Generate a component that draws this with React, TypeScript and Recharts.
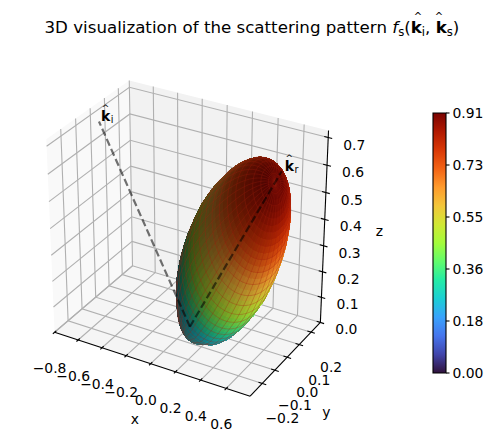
import { ScatterChart, Scatter, XAxis, YAxis, ReferenceArea } from "recharts";

const FONT = "'DejaVu Sans', sans-serif";

const xTicks = [-0.8, -0.6, -0.4, -0.2, 0.0, 0.2, 0.4, 0.6];
const yTicks = [-0.2, -0.1, 0.0, 0.1, 0.2];
const zTicks = [0.0, 0.1, 0.2, 0.3, 0.4, 0.5, 0.6, 0.7];
const colorbarTicks = [0, 0.182, 0.364, 0.546, 0.728, 0.91];

const xLim = [-0.8, 0.785];
const yLim = [-0.295, 0.28];
const zLim = [0, 0.725];

const kIncident = [-0.73, 0, 0.685];
const kReflected = [0.7, 0, 0.68];

// lobe radius, by angle from the reflected direction
const lobeAngles = [
  0, 1.25, 2.5, 3.75, 5, 6.25, 7.5, 8.75, 10, 11.25, 12.5, 13.75, 15, 16.25, 17.5, 18.75, 20, 21.25,
  22.5, 23.75, 25, 26.25, 27.5, 28.75, 30, 31.25, 32.5, 33.75, 35, 36.25, 37.5, 38.75, 40, 41.25,
  42.5, 43.75, 45, 46.25, 47.5, 48.75, 50, 51.25, 52.5, 53.75, 55, 56.25, 57.5, 58.75, 60, 61.25,
  62.5, 63.75, 65, 66.25, 67.5, 68.75, 70, 71.25, 72.5, 73.75, 75, 76.25, 77.5, 78.75, 80, 81.25,
  82.5, 83.75, 85, 86.25, 87.5, 88.75, 90,
];
const lobeRadii = [
  0.91, 0.909, 0.906, 0.901, 0.894, 0.885, 0.875, 0.863, 0.849, 0.834, 0.818, 0.8, 0.782, 0.763,
  0.744, 0.724, 0.704, 0.683, 0.662, 0.641, 0.621, 0.6, 0.58, 0.56, 0.535, 0.512, 0.49, 0.468, 0.45,
  0.427, 0.405, 0.385, 0.366, 0.345, 0.325, 0.305, 0.272, 0.252, 0.232, 0.218, 0.204, 0.19, 0.177,
  0.166, 0.155, 0.144, 0.133, 0.124, 0.115, 0.106, 0.098, 0.09, 0.082, 0.076, 0.07, 0.063, 0.056,
  0.051, 0.047, 0.043, 0.039, 0.035, 0.031, 0.028, 0.024, 0.02, 0.017, 0.014, 0.011, 0.008, 0.006,
  0.003, 0,
];

const turboStops = [
  "#30123b", "#4145ab", "#4675ed", "#39a2fc", "#1bcfd4", "#24eca6", "#61fc6c", "#a4fc3b",
  "#d1e834", "#f3c63a", "#fe9b2d", "#f36315", "#d93806", "#b11901", "#7a0402",
];

// view: elev 30, azim -60, distance 10, box stretched like the reference
const boxSize = [1.23, 0.826, 1.199];
const SCALE = 1852;
const CENTER_X = 188;
const CENTER_Y = 234;
const WIDTH = 495;
const HEIGHT = 442;

const eyeU = [0.866, 0.5, 0];
const eyeV = [-0.25, 0.433, 0.866];
const eyeW = [0.433, -0.75, 0.5];

type P3 = number[];

const dot = (a: P3, b: P3) => a[0] * b[0] + a[1] * b[1] + a[2] * b[2];

function project(p: P3) {
  const d = [
    ((p[0] - xLim[0]) / (xLim[1] - xLim[0]) - 0.5) * boxSize[0] - eyeW[0] * 10,
    ((p[1] - yLim[0]) / (yLim[1] - yLim[0]) - 0.5) * boxSize[1] - eyeW[1] * 10,
    ((p[2] - zLim[0]) / (zLim[1] - zLim[0]) - 0.5) * boxSize[2] - eyeW[2] * 10,
  ];
  const c = dot(d, eyeW);
  return [dot(d, eyeU) / -c, dot(d, eyeV) / -c, c];
}

function mark(points: P3[], style: any) {
  const pts = points.map(project);
  return { x: pts[0][0], y: pts[0][1], pts, ...style };
}

function MarkShape(props: any) {
  const m = props.payload ?? props;
  const d =
    "M" +
    m.pts.map(([u, v]: number[]) => `${props.cx + (u - m.x) * SCALE},${props.cy - (v - m.y) * SCALE}`).join("L") +
    (m.closed ? "Z" : "");
  return (
    <path
      d={d}
      fill={m.fill ?? "none"}
      stroke={m.stroke ?? "none"}
      strokeOpacity={m.strokeOpacity}
      strokeWidth={m.width ?? 1}
      shapeRendering={m.crisp ? "crispEdges" : undefined}
    />
  );
}

function TextShape(props: any) {
  const m = props.payload ?? props;
  return (
    <text
      x={props.cx + m.dx}
      y={props.cy + m.dy}
      textAnchor="middle"
      dominantBaseline="central"
      fontFamily={FONT}
      fontSize={13.9}
      fill="#000"
    >
      {m.label}
    </text>
  );
}

function KHatShape(props: any) {
  const m = props.payload ?? props;
  const x = props.cx + m.dx;
  const y = props.cy + m.dy;
  return (
    <g fontFamily={FONT} fill="#000">
      <text x={x} y={y} fontSize={13.9} fontWeight="bold">
        k
      </text>
      <text x={x + 9.9} y={y + 2} fontSize={9.7}>
        {m.sub}
      </text>
      <text x={x + 4.6} y={y - 10.7} fontSize={9} textAnchor="middle">
        ^
      </text>
    </g>
  );
}

const fmt = (v: number) => v.toFixed(1).replace("-", "\u2212");

function hexToRgb(hex: string) {
  return [1, 3, 5].map((i) => parseInt(hex.slice(i, i + 2), 16));
}

function turbo(t: number) {
  const pos = Math.min(Math.max(t, 0), 1) * (turboStops.length - 1);
  const i = Math.min(Math.floor(pos), turboStops.length - 2);
  const a = hexToRgb(turboStops[i]);
  const b = hexToRgb(turboStops[i + 1]);
  return a.map((c, k) => c + (b[k] - c) * (pos - i));
}

// lobe axis and the two directions across it
const axisLen = Math.hypot(kReflected[0], kReflected[2]);
const lobeAxis = [kReflected[0] / axisLen, 0, kReflected[2] / axisLen];
const across = [lobeAxis[2], 0, -lobeAxis[0]];
const LIGHT = [-0.667, -0.667, 0.333];
const AROUND_STEP = 5;

function lobePoint(ring: number, turnDeg: number) {
  const a = (lobeAngles[ring] * Math.PI) / 180;
  const t = (turnDeg * Math.PI) / 180;
  const r = lobeRadii[ring];
  const side = Math.sin(a);
  const p = [
    r * (Math.cos(a) * lobeAxis[0] + side * Math.cos(t) * across[0]),
    r * side * Math.sin(t),
    r * (Math.cos(a) * lobeAxis[2] + side * Math.cos(t) * across[2]),
  ];
  p[2] = Math.max(p[2], 0);
  return p;
}

function buildLobe() {
  const faces: any[] = [];
  const lines: any[] = [];
  const middle = [lobeAxis[0] * 0.455, 0, lobeAxis[2] * 0.455];
  for (let i = 0; i < lobeAngles.length - 1; i++) {
    for (let t = 0; t < 360; t += AROUND_STEP) {
      const a = lobePoint(i, t);
      const b = lobePoint(i + 1, t);
      const c = lobePoint(i + 1, t + AROUND_STEP);
      const d = lobePoint(i, t + AROUND_STEP);
      const e1 = [c[0] - a[0], c[1] - a[1], c[2] - a[2]];
      const e2 = [d[0] - b[0], d[1] - b[1], d[2] - b[2]];
      let n = [e1[1] * e2[2] - e1[2] * e2[1], e1[2] * e2[0] - e1[0] * e2[2], e1[0] * e2[1] - e1[1] * e2[0]];
      const len = Math.hypot(n[0], n[1], n[2]) || 1;
      n = n.map((v) => v / len);
      const mid = [0, 1, 2].map((k) => (a[k] + b[k] + c[k] + d[k]) / 4);
      const outward = dot(n, [mid[0] - middle[0], mid[1] - middle[1], mid[2] - middle[2]]) > 0;
      if (!outward) n = n.map((v) => -v);
      // the reference lights the inner side of its normals
      const shade = 0.3 + 0.7 * ((-dot(n, LIGHT) + 1) / 2);
      const value = (lobeRadii[i] + lobeRadii[i + 1]) / 2 / 0.91;
      // the rim stays teal-blue in the reference, never the purple end of the map
      const rgb = turbo(Math.max(Math.pow(value, 1.4), 0.28)).map((v) => Math.round(v * shade));
      const color = `rgb(${rgb[0]},${rgb[1]},${rgb[2]})`;
      faces.push({
        ...mark([a, b, c, d], { fill: color, stroke: color, width: 0.6, closed: true, crisp: true }),
        depth: project(mid)[2],
      });
      // mesh lines only on the side that faces the viewer
      const [pa, pb, pc, pd] = [a, b, c, d].map(project);
      const area =
        (pc[0] - pa[0]) * (pd[1] - pb[1]) - (pc[1] - pa[1]) * (pd[0] - pb[0]);
      if (area > 0 === outward) {
        const ringLine = i % 2 === 0;
        const sideLine = t % 10 === 0;
        const edge = ringLine && sideLine ? [b, a, d] : ringLine ? [a, d] : sideLine ? [b, a] : null;
        if (edge) lines.push(mark(edge, { stroke: "#a0200f", strokeOpacity: 0.32, width: 0.9 }));
      }
    }
  }
  return { faces: faces.sort((p, q) => p.depth - q.depth), lines };
}

const [x0, x1] = xLim;
const [y0, y1] = yLim;
const [z0, z1] = zLim;

const paneMarks = [
  mark([[x0, y0, z0], [x0, y1, z0], [x0, y1, z1], [x0, y0, z1]], { fill: "#f9f9f9", closed: true }),
  mark([[x0, y1, z0], [x1, y1, z0], [x1, y1, z1], [x0, y1, z1]], { fill: "#f2f2f2", closed: true }),
  mark([[x0, y0, z0], [x1, y0, z0], [x1, y1, z0], [x0, y1, z0]], { fill: "#f5f5f5", closed: true }),
];

const gridStyle = { stroke: "#b0b0b0", width: 1.1 };
const gridMarks = [
  ...xTicks.map((x) => mark([[x, y0, z0], [x, y1, z0], [x, y1, z1]], gridStyle)),
  ...yTicks.map((y) => mark([[x1, y, z0], [x0, y, z0], [x0, y, z1]], gridStyle)),
  ...zTicks.map((z) => mark([[x0, y0, z], [x0, y1, z], [x1, y1, z]], gridStyle)),
];

const axisStyle = { stroke: "#000", width: 1.1 };
const axisMarks = [
  mark([[x0, y0, z0], [x1, y0, z0]], axisStyle),
  mark([[x1, y0, z0], [x1, y1, z0]], axisStyle),
  mark([[x1, y1, z0], [x1, y1, z1]], axisStyle),
  ...xTicks.map((x) => mark([[x, y0 + 0.012, z0], [x, y0 - 0.012, z0]], axisStyle)),
  ...yTicks.map((y) => mark([[x1 - 0.03, y, z0], [x1 + 0.03, y, z0]], axisStyle)),
  ...zTicks.map((z) => mark([[x1 - 0.03, y1, z], [x1 + 0.03, y1, z]], axisStyle)),
];

const labelAt = (p: P3, label: string, dx: number, dy: number) => {
  const q = project(p);
  return { x: q[0], y: q[1], label, dx, dy };
};

const textMarks = [
  ...xTicks.map((x) => labelAt([x, y0, z0], fmt(x), -5, 36)),
  ...yTicks.map((y) => labelAt([x1, y, z0], fmt(y), 20, 35)),
  ...zTicks.map((z) => labelAt([x1, y1, z], fmt(z), 26, 7)),
  labelAt([(x0 + x1) / 2, y0, z0], "x", -15, 56),
  labelAt([x1, (y0 + y1) / 2, z0], "y", 40, 54),
  labelAt([x1, y1, (z0 + z1) / 2], "z", 55, 2),
];

const lineOf = (k: P3) => {
  const a = project([0, 0, 0]);
  const b = project(k);
  return [
    { x: a[0], y: a[1] },
    { x: b[0], y: b[1] },
  ];
};

const kLabels = [
  { ...labelAt(kIncident, "", 2, 0), sub: "i" },
  { ...labelAt(kReflected, "", 3, 0), sub: "r" },
];

const lobe = buildLobe();
const dashStyle = { stroke: "#000", strokeOpacity: 0.55, strokeWidth: 2.2, strokeDasharray: "7.5 3.5" };
const noPoint = () => <g />;

function Title() {
  return (
    <svg width={WIDTH} height={50} style={{ position: "absolute", left: 0, top: 0 }}>
      <g fontFamily={FONT} fill="#000">
        <text x={44.5} y={33} fontSize={16.67}>
          3D visualization of the scattering pattern{" "}
          <tspan fontStyle="italic">f</tspan>
          <tspan dy={3} fontSize={11.7}>s</tspan>
          <tspan dy={-3}>(</tspan>
          <tspan fontWeight="bold">k</tspan>
          <tspan dy={3} fontSize={11.7}>i</tspan>
          <tspan dy={-3}>, </tspan>
          <tspan fontWeight="bold">k</tspan>
          <tspan dy={3} fontSize={11.7}>s</tspan>
          <tspan dy={-3}>)</tspan>
        </text>
        <text x={418} y={20} fontSize={10} textAnchor="middle">^</text>
        <text x={439} y={20} fontSize={10} textAnchor="middle">^</text>
      </g>
    </svg>
  );
}

export default function App() {
  return (
    <div style={{ position: "absolute", left: 0, top: 0, width: WIDTH, height: HEIGHT }}>
      <Title />
      <div style={{ position: "absolute", left: 0, top: 0 }}>
        <ScatterChart width={WIDTH} height={HEIGHT} margin={{ top: 0, right: 0, bottom: 0, left: 0 }}>
          <XAxis
            type="number"
            dataKey="x"
            hide
            allowDataOverflow
            domain={[-CENTER_X / SCALE, (WIDTH - CENTER_X) / SCALE]}
          />
          <YAxis
            type="number"
            dataKey="y"
            hide
            allowDataOverflow
            domain={[(CENTER_Y - HEIGHT) / SCALE, CENTER_Y / SCALE]}
          />
          <Scatter data={paneMarks} shape={MarkShape} isAnimationActive={false} />
          <Scatter data={gridMarks} shape={MarkShape} isAnimationActive={false} />
          <Scatter data={axisMarks} shape={MarkShape} isAnimationActive={false} />
          <Scatter data={lobe.faces} shape={MarkShape} isAnimationActive={false} />
          <Scatter data={lobe.lines} shape={MarkShape} isAnimationActive={false} />
          <Scatter data={lineOf(kIncident)} line={dashStyle} shape={noPoint} isAnimationActive={false} />
          <Scatter data={lineOf(kReflected)} line={dashStyle} shape={noPoint} isAnimationActive={false} />
          <Scatter data={textMarks} shape={TextShape} isAnimationActive={false} />
          <Scatter data={kLabels} shape={KHatShape} isAnimationActive={false} />
        </ScatterChart>
      </div>
      <div style={{ position: "absolute", left: 0, top: 0 }}>
        <ScatterChart width={WIDTH} height={HEIGHT} margin={{ top: 113, right: 0, bottom: 69, left: 433 }}>
          <defs>
            <linearGradient id="turboBar" x1="0" y1="1" x2="0" y2="0">
              {turboStops.map((c, i) => (
                <stop key={c} offset={i / (turboStops.length - 1)} stopColor={c} />
              ))}
            </linearGradient>
          </defs>
          <XAxis type="number" dataKey="x" hide domain={[0, 1]} />
          <YAxis
            type="number"
            dataKey="y"
            orientation="right"
            width={49}
            domain={[0, 0.91]}
            ticks={colorbarTicks}
            interval={0}
            tickFormatter={(v: number) => v.toFixed(2)}
            axisLine={false}
            tickSize={3.5}
            tickMargin={3}
            tick={{ fontSize: 13.9, fontFamily: FONT, fill: "#000" }}
            tickLine={{ stroke: "#000", strokeWidth: 1.1 }}
          />
          <Scatter
            data={colorbarTicks.map((v) => ({ x: 0.5, y: v }))}
            shape={noPoint}
            isAnimationActive={false}
          />
          <ReferenceArea x1={0} x2={1} y1={0} y2={0.91} fill="url(#turboBar)" fillOpacity={1} stroke="#000" strokeWidth={1.1} />
        </ScatterChart>
      </div>
    </div>
  );
}
